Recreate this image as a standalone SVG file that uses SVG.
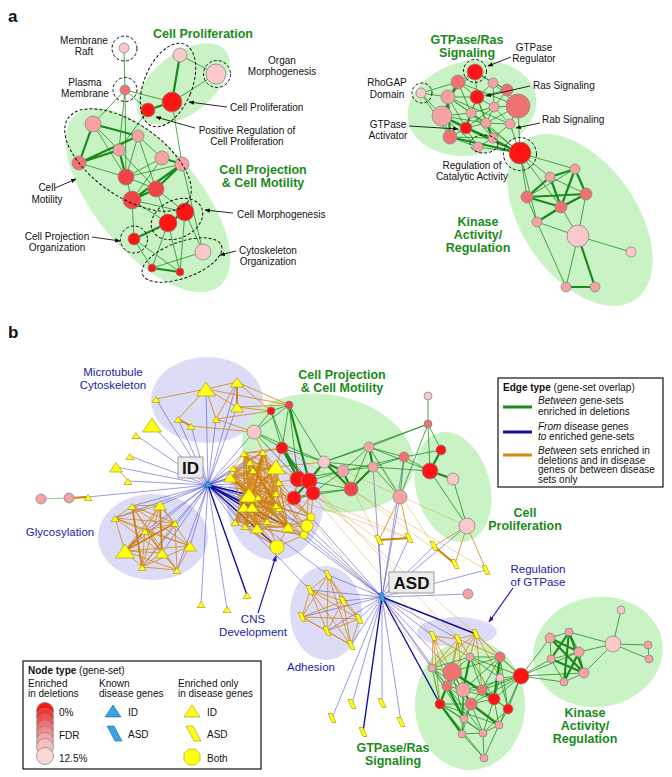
<svg xmlns="http://www.w3.org/2000/svg" width="672" height="777" viewBox="0 0 672 777">
<style>
text{font-family:"Liberation Sans",Arial,sans-serif;fill:#111}
.lb{font-size:10px}
.ttl{font-size:12.5px;font-weight:bold;fill:#1a8a1a}
.bl{font-size:11.5px;fill:#1c1ca8}
.pl{font-size:17px;font-weight:bold}
.lg{font-size:10px}
.c{text-anchor:middle}
.gbg{fill:#c9f3c4}
.lav{fill:#dcdcf6}
.dsh{fill:none;stroke:#111;stroke-width:1;stroke-dasharray:3,2}
.g1{fill:none;stroke:#1f8f1f;stroke-width:.8}
.g2{fill:none;stroke:#1a8a1a;stroke-width:2.2}
.g0{fill:none;stroke:#5cb85c;stroke-width:.7}
.o1{fill:none;stroke:#d4870f;stroke-width:.8}
.o2{fill:none;stroke:#cc7f0a;stroke-width:1.8}
.o0{fill:none;stroke:#dc9a3a;stroke-width:.55;opacity:.8}
.b1{fill:none;stroke:#3a3ac8;stroke-width:.6;opacity:.85}
.b2{fill:none;stroke:#10109a;stroke-width:1.4}
.ar{fill:none;stroke:#111;stroke-width:.9}
.r0{fill:#ff1414}.r1{fill:#f24444}.r2{fill:#ef7272}.r3{fill:#f4a2a2}.r4{fill:#f9c8c8}
circle.r0,circle.r1,circle.r2,circle.r3,circle.r4{stroke:#8a8a8a;stroke-width:.8}
.y{fill:#ffff14;stroke:#a09000;stroke-width:.6}
.hb{fill:#3aa2e6;stroke:#1a6aa0;stroke-width:.6}
</style>
<defs>
<polygon id="ts" points="0,-3.5 4,2.5 -4,2.5"/>
<polygon id="tm" points="0,-5.5 6.5,4 -6.5,4"/>
<polygon id="tl" points="0,-8 9.5,6 -9.5,6"/>
<polygon id="pg" points="-4,-4.5 0,-4.5 4,4.5 0,4.5"/>
<marker id="ah" viewBox="0 0 10 10" refX="9" refY="5" markerWidth="6" markerHeight="6" orient="auto"><path d="M0,1L10,5L0,9z" fill="#111"/></marker>
<marker id="ahb" viewBox="0 0 10 10" refX="9" refY="5" markerWidth="5" markerHeight="5" orient="auto"><path d="M0,1L10,5L0,9z" fill="#1c1ca8"/></marker>
</defs>
<rect width="672" height="777" fill="#fff"/>

<!-- ===== PANEL A backgrounds ===== -->
<g id="bg-a">
<ellipse class="gbg" cx="183" cy="84" rx="54" ry="30" transform="rotate(-38 183 84)"/>
<ellipse class="gbg" cx="148" cy="200" rx="112" ry="52" transform="rotate(50 148 200)"/>
<ellipse class="gbg" cx="472" cy="108" rx="65" ry="47" transform="rotate(-12 472 108)"/>
<ellipse class="gbg" cx="580" cy="220" rx="97" ry="57" transform="rotate(55 580 220)"/>
</g>

<!-- ===== PANEL A connectors ===== -->
<g id="edges-a">
<path class="g1" d="M124,48L125,90M125,90L93,124M125,90L148,110M125,90L172,102M125,90L119,150M125,90L126,177M180,55L216,74M216,74L172,102M172,102L182,164M148,110L119,150M93,124L119,150M93,124L126,177M138,136L162,158M138,136L126,177M119,150L156,189M162,158L126,177M162,158L132,200M79,163L126,177M182,164L126,177M126,177L132,200M126,177L156,189M156,189L185,212M156,189L168,223M132,200L168,223M132,200L134,239M185,212L203,252M168,223L152,268M168,223L180,272M134,239L152,268M134,239L180,272M203,252L152,268M185,212L180,272M182,164L203,252M132,200L185,212M138,136L156,189"/>
<path class="g2" d="M180,55L172,102M172,102L148,110M93,124L138,136M93,124L79,163M79,163L138,136M79,163L119,150M162,158L182,164M182,164L156,189M182,164L132,200M156,189L132,200M185,212L168,223M168,223L134,239M152,268L180,272M119,150L126,177"/>
<path class="g1" d="M475,72L458,82M475,72L493,83M475,72L477,97M475,72L448,97M458,82L448,97M458,82L477,97M458,82L421,93M493,83L507,90M493,83L477,97M493,83L494,107M507,90L518,106M507,90L494,107M507,90L477,97M421,93L448,97M421,93L442,116M448,97L477,97M448,97L471,113M448,97L466,128M477,97L494,107M477,97L471,113M477,97L486,123M477,97L466,128M518,106L494,107M518,106L510,124M518,106L486,123M518,106L520,153M494,107L471,113M494,107L486,123M494,107L510,124M471,113L442,116M471,113L486,123M442,116L450,137M442,116L478,147M486,123L466,128M486,123L510,124M466,128L450,137M466,128L493,138M466,128L478,147M510,124L493,138M510,124L520,153M450,137L478,147M450,137L493,138M493,138L478,147M493,138L520,153M478,147L520,153M448,97L510,124M458,82L518,106M493,83L518,106M471,113L493,138M448,97L486,123M477,97L493,138M421,93L450,137M475,72L507,90M458,82L471,113M442,116L486,123M494,107L466,128M486,123L520,153M471,113L520,153"/>
<path class="g2" d="M442,116L520,153M450,137L520,153M448,97L450,137M471,113L466,128M486,123L493,138M466,128L520,153M442,116L466,128M458,82L442,116"/>
<path class="g1" d="M520,153L575,169M520,153L550,177M520,153L527,197M575,169L527,197M550,177L586,194M527,197L537,222M586,194L578,236M561,207L578,236M537,222L578,236M578,236L631,252M578,236L566,287M537,222L566,287M586,194L537,222M520,153L561,207M520,153L537,222"/>
<path class="g2" d="M575,169L550,177M575,169L586,194M575,169L561,207M550,177L527,197M550,177L561,207M527,197L586,194M527,197L561,207M586,194L561,207M561,207L537,222M566,287L595,287M578,236L595,287"/>
</g>

<!-- ===== PANEL A nodes ===== -->
<g id="nodes-a">
<g id="a-membrane-raft"><circle class="r4" cx="124" cy="48" r="5"/></g>
<g id="a-plasma-membrane"><circle class="r2" cx="125" cy="90" r="5"/></g>
<g id="a-n3"><circle class="r4" cx="180" cy="55" r="7"/></g>
<g id="a-organ-morph"><circle class="r4" cx="216" cy="74" r="10"/></g>
<g id="a-cell-prolif"><circle class="r0" cx="172" cy="102" r="10"/></g>
<g id="a-pos-reg"><circle class="r0" cx="148" cy="110" r="7"/></g>
<g id="a-n7"><circle class="r3" cx="93" cy="124" r="8"/></g>
<g id="a-n8"><circle class="r3" cx="138" cy="136" r="6"/></g>
<g id="a-n9"><circle class="r3" cx="119" cy="150" r="6"/></g>
<g id="a-n10"><circle class="r2" cx="79" cy="163" r="7"/></g>
<g id="a-n11"><circle class="r3" cx="162" cy="158" r="7"/></g>
<g id="a-n12"><circle class="r3" cx="182" cy="164" r="7"/></g>
<g id="a-n13"><circle class="r1" cx="126" cy="177" r="8"/></g>
<g id="a-n14"><circle class="r1" cx="156" cy="189" r="8"/></g>
<g id="a-n15"><circle class="r1" cx="132" cy="200" r="9"/></g>
<g id="a-n16"><circle class="r0" cx="185" cy="212" r="9"/></g>
<g id="a-n17"><circle class="r0" cx="168" cy="223" r="9"/></g>
<g id="a-cp-org"><circle class="r0" cx="134" cy="239" r="6"/></g>
<g id="a-n19"><circle class="r4" cx="203" cy="252" r="8"/></g>
<g id="a-n20"><circle class="r0" cx="152" cy="268" r="4"/></g>
<g id="a-n21"><circle class="r0" cx="180" cy="272" r="4"/></g>

<g id="a-gtp-reg"><circle class="r0" cx="475" cy="72" r="8"/></g>
<g id="a-b2"><circle class="r2" cx="458" cy="82" r="7"/></g>
<g id="a-b3"><circle class="r3" cx="493" cy="83" r="5"/></g>
<g id="a-b4"><circle class="r2" cx="507" cy="90" r="6"/></g>
<g id="a-rhogap"><circle class="r4" cx="421" cy="93" r="5"/></g>
<g id="a-b6"><circle class="r3" cx="448" cy="97" r="7"/></g>
<g id="a-ras"><circle class="r0" cx="477" cy="97" r="7"/></g>
<g id="a-b8"><circle class="r2" cx="518" cy="106" r="12"/></g>
<g id="a-b9"><circle class="r3" cx="494" cy="107" r="5"/></g>
<g id="a-b10"><circle class="r3" cx="471" cy="113" r="5"/></g>
<g id="a-b11"><circle class="r3" cx="442" cy="116" r="10"/></g>
<g id="a-b12"><circle class="r3" cx="486" cy="123" r="5"/></g>
<g id="a-gtp-act"><circle class="r0" cx="466" cy="128" r="6"/></g>
<g id="a-rab"><circle class="r3" cx="510" cy="124" r="5"/></g>
<g id="a-b15"><circle class="r2" cx="450" cy="137" r="7"/></g>
<g id="a-b16"><circle class="r3" cx="493" cy="138" r="5"/></g>
<g id="a-b17"><circle class="r3" cx="478" cy="147" r="5"/></g>
<g id="a-reg-cat"><circle class="r0" cx="520" cy="153" r="11"/></g>
<g id="a-k1"><circle class="r3" cx="575" cy="169" r="5"/></g>
<g id="a-k2"><circle class="r3" cx="550" cy="177" r="5"/></g>
<g id="a-k3"><circle class="r2" cx="527" cy="197" r="6"/></g>
<g id="a-k4"><circle class="r2" cx="586" cy="194" r="6"/></g>
<g id="a-k5"><circle class="r2" cx="561" cy="207" r="6"/></g>
<g id="a-k6"><circle class="r3" cx="537" cy="222" r="5"/></g>
<g id="a-k7"><circle class="r4" cx="578" cy="236" r="11"/></g>
<g id="a-k8"><circle class="r4" cx="631" cy="252" r="5"/></g>
<g id="a-k9"><circle class="r3" cx="566" cy="287" r="5"/></g>
<g id="a-k10"><circle class="r3" cx="595" cy="287" r="5"/></g>
</g>

<!-- dashed groupings panel a -->
<g id="dashed-a">
<circle class="dsh" cx="124.5" cy="48.5" r="12.5"/>
<circle class="dsh" cx="125" cy="89.5" r="12"/>
<circle class="dsh" cx="217" cy="74" r="13.5"/>
<ellipse class="dsh" cx="168" cy="85" rx="24" ry="44" transform="rotate(22 168 85)"/>
<ellipse class="dsh" cx="128" cy="160" rx="73" ry="36" transform="rotate(35 128 160)"/>
<ellipse class="dsh" cx="177" cy="219" rx="27" ry="19" transform="rotate(-25 177 219)"/>
<circle class="dsh" cx="134" cy="239.5" r="13.5"/>
<ellipse class="dsh" cx="182" cy="260" rx="42" ry="18" transform="rotate(-20 182 260)"/>
<circle class="dsh" cx="475" cy="71" r="11.5"/>
<circle class="dsh" cx="422" cy="93" r="10"/>
<circle class="dsh" cx="520" cy="154" r="16.5"/>
<ellipse class="dsh" cx="484" cy="144" rx="14" ry="9"/>
</g>

<!-- panel a labels -->
<g id="labels-a">
<text x="8" y="22" class="pl">a</text>
<text x="203" y="38" class="ttl c">Cell Proliferation</text>
<text x="84" y="44" class="lb c">Membrane<tspan x="84" dy="11">Raft</tspan></text>
<text x="85" y="86" class="lb c">Plasma<tspan x="85" dy="11">Membrane</tspan></text>
<text x="282" y="64" class="lb c">Organ<tspan x="282" dy="11">Morphogenesis</tspan></text>
<text x="230" y="111" class="lb">Cell Proliferation</text>
<text x="247" y="134" class="lb c">Positive Regulation of<tspan x="247" dy="11">Cell Proliferation</tspan></text>
<text x="263" y="174" class="ttl c">Cell Projection<tspan x="263" dy="13">&amp; Cell Motility</tspan></text>
<text x="47" y="191" class="lb c">Cell<tspan x="47" dy="12">Motility</tspan></text>
<text x="237" y="218" class="lb">Cell Morphogenesis</text>
<text x="57" y="240" class="lb c">Cell Projection<tspan x="57" dy="11">Organization</tspan></text>
<text x="268" y="254" class="lb c">Cytoskeleton<tspan x="268" dy="11">Organization</tspan></text>
<text x="467" y="44" class="ttl c">GTPase/Ras<tspan x="467" dy="13">Signaling</tspan></text>
<text x="534" y="51" class="lb c">GTPase<tspan x="534" dy="11">Regulator</tspan></text>
<text x="533" y="89" class="lb">Ras Signaling</text>
<text x="387" y="86" class="lb c">RhoGAP<tspan x="387" dy="12">Domain</tspan></text>
<text x="542" y="123" class="lb">Rab Signaling</text>
<text x="388" y="128" class="lb c">GTPase<tspan x="388" dy="11">Activator</tspan></text>
<text x="472" y="169" class="lb c">Regulation of<tspan x="472" dy="11">Catalytic Activity</tspan></text>
<text x="478" y="226" class="ttl c">Kinase<tspan x="478" dy="13">Activity/</tspan><tspan x="478" dy="13">Regulation</tspan></text>
</g>
<g id="callouts-a">
<path class="ar" marker-end="url(#ah)" d="M227,107L189,102"/>
<path class="ar" marker-end="url(#ah)" d="M195,128L156,117"/>
<path class="ar" marker-end="url(#ah)" d="M55,188L76,179"/>
<path class="ar" marker-end="url(#ah)" d="M233,213L205,210"/>
<path class="ar" marker-end="url(#ah)" d="M92,237L120,241"/>
<path class="ar" marker-end="url(#ah)" d="M236,251L220,255"/>
<path class="ar" marker-end="url(#ah)" d="M511,57L488,66"/>
<path class="ar" marker-end="url(#ah)" d="M530,86L486,96"/>
<path class="ar" marker-end="url(#ah)" d="M540,123L516,128"/>
<path class="ar" marker-end="url(#ah)" d="M409,126L458,129"/>
</g>

<!-- ===== PANEL B backgrounds ===== -->
<g id="bg-b">
<ellipse class="lav" cx="207" cy="400" rx="56" ry="43"/>
<ellipse class="gbg" cx="328" cy="453" rx="87" ry="58" transform="rotate(12 328 453)"/>
<ellipse class="gbg" cx="453" cy="487" rx="37" ry="56" transform="rotate(-15 453 487)"/>
<ellipse class="gbg" cx="470" cy="705" rx="55" ry="65"/>
<ellipse class="gbg" cx="598" cy="652" rx="65" ry="55" transform="rotate(-10 598 652)"/>
<ellipse class="lav" cx="275" cy="503" rx="48" ry="57"/>
<ellipse class="lav" cx="153" cy="537" rx="55" ry="43"/>
<ellipse class="lav" cx="326" cy="613" rx="36" ry="47"/>
<ellipse class="lav" cx="457" cy="632" rx="40" ry="15"/>
</g>

<!-- ===== PANEL B connectors ===== -->
<g id="edges-b">
<path class="b1" d="M208,485L206,389M208,485L237,382M208,485L156,399M208,485L237,407M208,485L178,419M208,485L191,426M208,485L216,419M208,485L152,425M208,485L136,435M208,485L130,456M208,485L116,467M208,485L128,481M208,485L88,497M208,485L132,506M208,485L160,505M208,485L115,518M208,485L175,523M208,485L145,531M208,485L190,546M208,485L125,551M208,485L162,553M208,485L142,567M208,485L177,570M208,485L201,604M208,485L227,609M208,485L254,432M208,485L244,453M208,485L233,468M208,485L230,477M208,485L250,462M208,485L253,470M208,485L244,507M208,485L235,522M208,485L245,526M208,485L276,467M208,485L279,482M208,485L276,493M208,485L279,508M208,485L258,497M208,485L263,452M208,485L311,517M208,485L307,526M208,485L304,535M208,485L328,575M208,485L310,590"/>
<path class="b2" d="M208,485L249,495M208,485L252,507M208,485L277,547M208,485L247,595M208,485L288,527M208,485L267,521"/>
<path class="b1" d="M382,597L379,540M382,597L409,538M382,597L434,546M382,597L468,594M382,597L486,570M382,597L433,636M382,597L458,639M382,597L432,668M382,597L452,672M382,597L447,686M382,597L328,575M382,597L310,590M382,597L343,601M382,597L302,617M382,597L359,619M382,597L327,631M382,597L351,645M382,597L332,718M382,597L352,704M382,597L382,703M382,597L401,722M382,597L400,497M382,597L311,517M382,597L307,526M382,597L304,535M382,597L279,508M382,597L288,527M382,597L467,526M382,597L373,467M382,597L404,457"/>
<path class="b2" d="M382,597L476,634M382,597L440,704M382,597L363,732"/>

<path class="o0" d="M276,467L379,540M279,482L409,538M298,479L433,636M309,481L458,639M313,493L476,634M294,498L432,668M324,462L467,526M276,493L409,538M343,471L379,540M369,447L434,546M282,448L486,570M351,489L455,564"/>
<path class="o1" d="M263,452L276,467M263,452L230,477M263,452L249,495M263,452L244,507M263,452L235,522M263,452L288,527M263,452L257,528M244,453L276,467M244,453L279,482M244,453L276,493M244,453L267,521M244,453L288,527M250,462L279,482M250,462L279,508M250,462L257,528M250,462L276,505M276,467L233,468M276,467L230,477M276,467L244,507M276,467L235,522M276,467L252,507M233,468L279,482M233,468L276,493M233,468L279,508M233,468L288,527M230,477L279,482M230,477L276,493M230,477L276,505M230,477L267,521M253,470L279,508M253,470L288,527M253,470L235,522M279,482L249,495M279,482L244,507M279,482L235,522M279,482L245,526M249,495L276,493M249,495L279,508M249,495L288,527M249,495L267,521M258,497L235,522M258,497L288,527M276,493L244,507M276,493L235,522M276,493L245,526M244,507L288,527M244,507L279,508M252,507L288,527M252,507L276,505M279,508L235,522M235,522L288,527M245,526L276,505M257,528L288,527M244,453L233,468M263,452L244,453M250,462L253,470M230,477L249,495M249,495L244,507M244,507L235,522M258,497L252,507M252,507L257,528M267,521L288,527M279,508L288,527M311,517L279,508M311,517L279,482M307,526L276,493M307,526L267,521M304,535L257,528M304,535L245,526M277,547L245,526M277,547L257,528M277,547L267,521M277,547L235,522M311,517L307,526M307,526L304,535M304,535L277,547M233,468L263,452M230,477L250,462M276,467L279,482M263,452L279,482M253,470L276,467"/>
<path class="o1" d="M263,452L279,508M263,452L276,493M263,452L252,507M263,452L267,521M263,452L258,497M244,453L249,495M244,453L244,507M244,453L257,528M244,453L245,526M244,453L252,507M250,462L249,495M250,462L288,527M250,462L244,507M250,462L235,522M250,462L276,467M250,462L276,493M276,467L257,528M276,467L267,521M276,467L288,527M276,467L279,508M233,468L249,495M233,468L257,528M233,468L245,526M233,468L252,507M230,477L258,497M230,477L257,528M230,477L279,508M230,477L253,470M253,470L249,495M253,470L244,507M253,470L276,493M253,470L257,528M279,482L252,507M279,482L257,528M279,482L267,521M279,482L288,527M249,495L257,528M249,495L235,522M249,495L245,526M258,497L279,508M258,497L276,467M258,497L245,526M276,493L257,528M276,493L252,507M276,493L288,527M244,507L257,528M244,507L267,521M252,507L235,522M252,507L279,508M279,508L245,526M279,508L257,528M279,508L267,521M235,522L267,521M245,526L288,527M257,528L276,505M276,505L288,527M276,505L235,522M311,517L288,527M311,517L276,493M307,526L288,527M304,535L288,527M277,547L288,527M277,547L244,507M263,452L304,535M244,453L311,517M233,468L307,526M230,477L304,535M253,470L311,517"/>
<path class="o1" d="M276,467L282,448M276,467L298,479M263,452L282,448M279,482L298,479M279,482L294,498M276,493L294,498M276,505L294,498M279,508L313,493M276,467L324,462M263,452L254,432M244,453L282,448M288,527L313,493M311,517L313,493M307,526L309,481"/>
<path class="o2" d="M276,467L249,495M244,453L279,508M230,477L288,527M263,452L245,526M249,495L276,505"/>
<path class="o1" d="M206,389L237,382M206,389L156,399M206,389L216,419M206,389L178,419M206,389L237,407M237,382L289,405M237,382L271,411M237,407L289,405M237,407L271,411M206,389L289,405M216,419L271,411M216,419L254,432M237,382L216,419M191,426L254,432M116,467L128,481"/>
<path class="o2" d="M237,382L237,407M178,419L191,426M69,498L88,497"/>
<path class="o1" d="M132,506L160,505M132,506L115,518M132,506L175,523M132,506L190,546M132,506L162,553M132,506L177,570M160,505L115,518M160,505L145,531M160,505L125,551M160,505L142,567M160,505L190,546M160,505L175,523M115,518L175,523M115,518L145,531M115,518L190,546M115,518L162,553M115,518L125,551M175,523L145,531M175,523L142,567M175,523L177,570M145,531L190,546M145,531L162,553M145,531L177,570M145,531L142,567M190,546L125,551M190,546L142,567M190,546L177,570M125,551L162,553M125,551L142,567M125,551L177,570M162,553L142,567M162,553L177,570M142,567L177,570"/>
<path class="o2" d="M160,505L162,553M145,531L125,551M132,506L142,567M175,523L125,551"/>
<path class="o1" d="M328,575L310,590M328,575L343,601M328,575L302,617M328,575L327,631M328,575L351,645M310,590L343,601M310,590L302,617M310,590L359,619M310,590L327,631M310,590L351,645M343,601L302,617M343,601L359,619M343,601L327,631M343,601L351,645M302,617L359,619M302,617L327,631M302,617L351,645M359,619L327,631M359,619L351,645M327,631L351,645M328,575L359,619"/>
<path class="o1" d="M433,636L458,639M458,639L476,634M433,636L432,668M433,636L452,672M433,636L470,657M433,636L447,686M433,636L440,704M458,639L452,672M458,639L470,657M458,639L500,657M458,639L463,690M458,639L447,686M476,634L470,657M476,634L500,657M476,634L500,678M476,634L521,676M476,634L452,672M476,634L482,690M476,634L432,668M458,639L432,668"/>
<path class="o1" d="M379,540L400,497M409,538L400,497M434,546L467,526M455,564L467,526M486,570L467,526"/>
<path class="o2" d="M379,540L409,538M434,546L455,564"/>

<path class="g0" d="M41,499L69,498"/>
<path class="g1" d="M271,411L289,405M271,411L254,432M289,405L254,432M271,411L282,448M289,405L282,448M289,405L298,479M289,405L324,462M254,432L282,448M282,448L309,481M282,448L324,462M309,481L313,493M298,479L294,498M313,493L294,498M309,481L343,471M313,493L343,471M324,462L369,447M324,462L373,467M343,471L373,467M343,471L369,447M369,447L400,497M373,467L400,497M369,447L404,457M373,467L404,457M404,457L400,497M351,489L369,447M351,489L309,481M369,447L428,424M324,462L428,424M404,457L441,450M428,396L428,424M428,424L441,450M428,424L430,471M428,424L400,497M430,471L467,526M453,479L467,526M404,457L430,471M373,467L430,471M369,447L430,471M254,432L298,479M254,432L324,462M271,411L298,479M313,493L351,489M343,471L404,457M294,498L351,489M298,479L343,471"/>
<path class="g2" d="M282,448L298,479M298,479L309,481M309,481L324,462M282,448L313,493M298,479L313,493M324,462L343,471M369,447L373,467M343,471L351,489M373,467L351,489M441,450L430,471M430,471L453,479M289,405L309,481M324,462L351,489M294,498L309,481"/>
<path class="g1" d="M432,668L452,672M432,668L447,686M432,668L440,704M432,668L470,657M452,672L470,657M452,672L447,686M452,672L463,690M452,672L471,704M452,672L500,657M470,657L500,657M470,657L500,678M470,657L482,690M500,657L500,678M500,657L521,676M500,657L482,690M500,678L521,676M500,678L482,690M500,678L494,699M447,686L463,690M447,686L440,704M447,686L471,704M463,690L482,690M463,690L464,719M463,690L494,699M482,690L471,704M482,690L508,709M440,704L471,704M440,704L464,719M440,704L484,758M471,704L494,699M471,704L464,719M471,704L483,733M494,699L508,709M494,699L499,725M494,699L483,733M508,709L499,725M508,709L521,676M464,719L462,734M464,719L483,733M499,725L483,733M462,734L483,733M462,734L484,758M483,733L484,758M499,725L484,758M508,709L483,733M440,704L483,733M471,704L462,734M452,672L464,719M463,690L462,734M521,676L482,690M521,676L494,699M521,676L470,657M521,676L463,690M521,676L471,704M521,676L499,725M432,668L464,719M447,686L483,733M470,657L494,699M500,657L463,690M500,678L508,709M440,704L499,725M432,668L463,690M452,672L482,690M500,657L508,709"/>
<path class="g2" d="M452,672L440,704M463,690L471,704M482,690L494,699M440,704L462,734M471,704L499,725M447,686L464,719M470,657L463,690M500,657L494,699M452,672L494,699"/>
<path class="g1" d="M521,676L550,638M521,676L551,659M521,676L564,682M521,676L584,673M521,676L579,652M550,638L569,632M550,638L551,659M569,632L579,652M551,659L579,652M551,659L564,682M579,652L584,673M579,652L613,644M584,673L613,644M613,644L621,610M613,644L648,645M613,644L649,659M648,645L649,659M569,632L613,644M564,682L584,673"/>
<path class="g2" d="M550,638L579,652M569,632L551,659M551,659L584,673M569,632L564,682M579,652L564,682M550,638L584,673M569,632L584,673"/>
</g>

<!-- ===== PANEL B nodes ===== -->
<g id="nodes-b">
<g id="b-lc1"><circle class="r3" cx="41" cy="499" r="5"/></g>
<g id="b-lc2"><circle class="r3" cx="69" cy="498" r="5"/></g>
<g id="b-lc3"><use href="#ts" x="88" y="498" class="y"/></g>
<g id="b-m1"><use href="#tl" x="206" y="390" class="y"/></g>
<g id="b-m2"><use href="#tm" x="237" y="383" class="y"/></g>
<g id="b-m3"><use href="#ts" x="156" y="400" class="y"/></g>
<g id="b-m4"><use href="#tm" x="237" y="408" class="y"/></g>
<g id="b-m5"><use href="#ts" x="178" y="420" class="y"/></g>
<g id="b-m6"><use href="#ts" x="191" y="427" class="y"/></g>
<g id="b-m7"><use href="#ts" x="216" y="420" class="y"/></g>
<g id="b-m8"><use href="#tl" x="152" y="426" class="y"/></g>
<g id="b-m9"><use href="#ts" x="136" y="436" class="y"/></g>
<g id="b-m10"><use href="#ts" x="130" y="457" class="y"/></g>
<g id="b-m11"><use href="#tm" x="116" y="468" class="y"/></g>
<g id="b-m12"><use href="#ts" x="128" y="482" class="y"/></g>
<g id="b-g1"><use href="#ts" x="132" y="507" class="y"/></g>
<g id="b-g2"><use href="#tm" x="160" y="506" class="y"/></g>
<g id="b-g3"><use href="#ts" x="115" y="519" class="y"/></g>
<g id="b-g4"><use href="#ts" x="175" y="524" class="y"/></g>
<g id="b-g5"><use href="#ts" x="145" y="532" class="y"/></g>
<g id="b-g6"><use href="#tm" x="190" y="547" class="y"/></g>
<g id="b-g7"><use href="#tl" x="125" y="552" class="y"/></g>
<g id="b-g8"><use href="#tm" x="162" y="554" class="y"/></g>
<g id="b-g9"><use href="#ts" x="142" y="568" class="y"/></g>
<g id="b-g10"><use href="#ts" x="177" y="571" class="y"/></g>
<g id="b-l1"><use href="#ts" x="201" y="605" class="y"/></g>
<g id="b-l2"><use href="#ts" x="227" y="610" class="y"/></g>
<g id="b-l3"><use href="#ts" x="247" y="596" class="y"/></g>
<g id="b-d1"><use href="#ts" x="263" y="453" class="y"/></g>
<g id="b-d2"><use href="#ts" x="244" y="454" class="y"/></g>
<g id="b-d3"><use href="#ts" x="250" y="463" class="y"/></g>
<g id="b-d4"><use href="#tl" x="276" y="468" class="y"/></g>
<g id="b-d5"><use href="#ts" x="233" y="469" class="y"/></g>
<g id="b-d6"><use href="#tm" x="230" y="478" class="y"/></g>
<g id="b-d7"><use href="#ts" x="253" y="471" class="y"/></g>
<g id="b-d8"><use href="#ts" x="279" y="483" class="y"/></g>
<g id="b-d9"><use href="#tl" x="249" y="496" class="y"/></g>
<g id="b-d10"><use href="#ts" x="258" y="498" class="y"/></g>
<g id="b-d11"><use href="#ts" x="276" y="494" class="y"/></g>
<g id="b-d12"><use href="#tm" x="244" y="508" class="y"/></g>
<g id="b-d13"><use href="#tm" x="252" y="508" class="y"/></g>
<g id="b-d14"><use href="#ts" x="279" y="509" class="y"/></g>
<g id="b-d15"><use href="#ts" x="235" y="523" class="y"/></g>
<g id="b-d16"><use href="#ts" x="245" y="527" class="y"/></g>
<g id="b-d17"><use href="#tm" x="257" y="529" class="y"/></g>
<g id="b-d18"><use href="#ts" x="267" y="522" class="y"/></g>
<g id="b-d19"><use href="#tm" x="288" y="528" class="y"/></g>
<g id="b-d20"><use href="#ts" x="276" y="506" class="y"/></g>
<g id="b-y1"><circle class="y" cx="311" cy="517" r="4"/></g>
<g id="b-y2"><circle class="y" cx="307" cy="526" r="6"/></g>
<g id="b-y3"><circle class="y" cx="304" cy="535" r="4"/></g>
<g id="b-cns"><circle class="y" cx="277" cy="547" r="7"/></g>
<g id="b-c1"><circle class="r0" cx="271" cy="411" r="4"/></g>
<g id="b-c2"><circle class="r1" cx="289" cy="405" r="4"/></g>
<g id="b-c3"><circle class="r4" cx="254" cy="432" r="7"/></g>
<g id="b-c4"><circle class="r0" cx="282" cy="448" r="6"/></g>
<g id="b-c5"><circle class="r0" cx="298" cy="479" r="8"/></g>
<g id="b-c6"><circle class="r0" cx="309" cy="481" r="8"/></g>
<g id="b-c7"><circle class="r0" cx="313" cy="493" r="7"/></g>
<g id="b-c8"><circle class="r0" cx="294" cy="498" r="7"/></g>
<g id="b-c9"><circle class="r4" cx="324" cy="462" r="6"/></g>
<g id="b-c10"><circle class="r3" cx="343" cy="471" r="6"/></g>
<g id="b-c11"><circle class="r3" cx="369" cy="447" r="5"/></g>
<g id="b-c12"><circle class="r3" cx="373" cy="467" r="5"/></g>
<g id="b-c13"><circle class="r2" cx="404" cy="457" r="5"/></g>
<g id="b-c14"><circle class="r1" cx="351" cy="489" r="7"/></g>
<g id="b-c15"><circle class="r3" cx="400" cy="497" r="7"/></g>
<g id="b-p1"><circle class="r4" cx="428" cy="396" r="4"/></g>
<g id="b-p2"><circle class="r2" cx="428" cy="424" r="4"/></g>
<g id="b-p3"><circle class="r0" cx="441" cy="450" r="5"/></g>
<g id="b-p4"><circle class="r0" cx="430" cy="471" r="8"/></g>
<g id="b-p5"><circle class="r4" cx="453" cy="479" r="6"/></g>
<g id="b-p6"><circle class="r4" cx="467" cy="526" r="8"/></g>
<g id="b-s1"><use href="#pg" x="379" y="540" class="y"/></g>
<g id="b-s2"><use href="#pg" x="409" y="538" class="y"/></g>
<g id="b-s3"><use href="#pg" x="434" y="546" class="y"/></g>
<g id="b-s4"><use href="#pg" x="455" y="564" class="y"/></g>
<g id="b-s5"><use href="#pg" x="486" y="570" class="y"/></g>
<g id="b-pn"><circle class="r3" cx="468" cy="594" r="5"/></g>
<g id="b-ad1"><use href="#pg" x="328" y="575" class="y"/></g>
<g id="b-ad2"><use href="#pg" x="310" y="590" class="y"/></g>
<g id="b-ad3"><use href="#pg" x="343" y="601" class="y"/></g>
<g id="b-ad4"><use href="#pg" x="302" y="617" class="y"/></g>
<g id="b-ad5"><use href="#pg" x="359" y="619" class="y"/></g>
<g id="b-ad6"><use href="#pg" x="327" y="631" class="y"/></g>
<g id="b-ad7"><use href="#pg" x="351" y="645" class="y"/></g>
<g id="b-ls1"><use href="#pg" x="332" y="718" class="y"/></g>
<g id="b-ls2"><use href="#pg" x="352" y="704" class="y"/></g>
<g id="b-ls3"><use href="#pg" x="382" y="703" class="y"/></g>
<g id="b-ls4"><use href="#pg" x="401" y="722" class="y"/></g>
<g id="b-ls5"><use href="#pg" x="363" y="732" class="y"/></g>
<g id="b-r1"><use href="#pg" x="433" y="636" class="y"/></g>
<g id="b-r2"><use href="#pg" x="458" y="639" class="y"/></g>
<g id="b-r3"><use href="#pg" x="476" y="634" class="y"/></g>
<g id="b-t1"><circle class="r3" cx="432" cy="668" r="4"/></g>
<g id="b-t2"><circle class="r2" cx="452" cy="672" r="9"/></g>
<g id="b-t3"><circle class="r3" cx="470" cy="657" r="4"/></g>
<g id="b-t4"><circle class="r2" cx="500" cy="657" r="5"/></g>
<g id="b-t5"><circle class="r4" cx="500" cy="678" r="4"/></g>
<g id="b-t6"><circle class="r2" cx="447" cy="686" r="5"/></g>
<g id="b-t7"><circle class="r3" cx="463" cy="690" r="7"/></g>
<g id="b-t8"><circle class="r2" cx="482" cy="690" r="5"/></g>
<g id="b-t9"><circle class="r0" cx="440" cy="704" r="5"/></g>
<g id="b-t10"><circle class="r2" cx="471" cy="704" r="6"/></g>
<g id="b-t11"><circle class="r0" cx="494" cy="699" r="6"/></g>
<g id="b-t12"><circle class="r0" cx="508" cy="709" r="5"/></g>
<g id="b-t13"><circle class="r3" cx="464" cy="719" r="4"/></g>
<g id="b-t14"><circle class="r3" cx="499" cy="725" r="4"/></g>
<g id="b-t15"><circle class="r3" cx="462" cy="734" r="4"/></g>
<g id="b-t16"><circle class="r3" cx="483" cy="733" r="4"/></g>
<g id="b-t17"><circle class="r3" cx="484" cy="758" r="4"/></g>
<g id="b-th"><circle class="r0" cx="521" cy="676" r="8"/></g>
<g id="b-k1"><circle class="r3" cx="550" cy="638" r="5"/></g>
<g id="b-k2"><circle class="r3" cx="569" cy="632" r="4"/></g>
<g id="b-k3"><circle class="r3" cx="551" cy="659" r="4"/></g>
<g id="b-k4"><circle class="r3" cx="579" cy="652" r="5"/></g>
<g id="b-k5"><circle class="r3" cx="584" cy="673" r="5"/></g>
<g id="b-k6"><circle class="r3" cx="564" cy="682" r="4"/></g>
<g id="b-k7"><circle class="r4" cx="613" cy="644" r="8"/></g>
<g id="b-k8"><circle class="r4" cx="621" cy="610" r="4"/></g>
<g id="b-k9"><circle class="r3" cx="648" cy="645" r="4"/></g>
<g id="b-k10"><circle class="r3" cx="649" cy="659" r="4"/></g>
<g id="b-id-hub"><polygon class="hb" points="208,481 212,487 204,487"/></g>
<g id="b-asd-hub"><polygon class="hb" points="379,593 383,593 385,601 381,601"/></g>
</g>

<!-- panel b labels -->
<g id="labels-b">
<text x="8" y="338" class="pl">b</text>
<text x="113" y="375.5" class="bl c">Microtubule<tspan x="113" dy="13">Cytoskeleton</tspan></text>
<text x="342" y="378.5" class="ttl c">Cell Projection<tspan x="342" dy="13">&amp; Cell Motility</tspan></text>
<text x="60" y="536" class="bl c">Glycosylation</text>
<text x="525" y="517" class="ttl c">Cell<tspan x="525" dy="13">Proliferation</tspan></text>
<text x="538" y="572.5" class="bl c">Regulation<tspan x="538" dy="13">of GTPase</tspan></text>
<text x="253" y="622.5" class="bl c">CNS<tspan x="253" dy="13">Development</tspan></text>
<text x="311" y="671" class="bl c">Adhesion</text>
<text x="393" y="751.5" class="ttl c">GTPase/Ras<tspan x="393" dy="13">Signaling</tspan></text>
<text x="585" y="716.5" class="ttl c">Kinase<tspan x="585" dy="13">Activity/</tspan><tspan x="585" dy="13">Regulation</tspan></text>
<g id="b-id-box"><rect x="178" y="457" width="25" height="21" fill="#ececec" stroke="#9a9a9a"/><text x="190.5" y="474" class="pl c">ID</text></g>
<g id="b-asd-box"><rect x="389" y="572" width="45" height="21" fill="#ececec" stroke="#9a9a9a"/><text x="411.5" y="589" class="pl c">ASD</text></g>
<path d="M258,613L276,556" stroke="#1c1ca8" stroke-width="1.2" fill="none" marker-end="url(#ahb)"/>
<path d="M513,588L489,622" stroke="#1c1ca8" stroke-width="1.2" fill="none" marker-end="url(#ahb)"/>
</g>

<!-- edge legend -->
<g id="legend-edge">
<rect x="498" y="378" width="165" height="109" fill="#fff" stroke="#111" stroke-width="1.2"/>
<text x="503" y="391" class="lg"><tspan font-weight="bold">Edge type</tspan> (gene-set overlap)</text>
<line x1="503" y1="407" x2="532" y2="407" stroke="#1a8a1a" stroke-width="3"/>
<text x="538" y="404" class="lg"><tspan font-style="italic">Between</tspan> gene-sets<tspan x="538" dy="10.5">enriched in deletions</tspan></text>
<line x1="503" y1="432" x2="532" y2="432" stroke="#1010a0" stroke-width="3"/>
<text x="538" y="430" class="lg"><tspan font-style="italic">From</tspan> disease genes<tspan x="538" dy="9.5" font-style="italic">to</tspan> enriched gene-sets</text>
<line x1="503" y1="455" x2="532" y2="455" stroke="#d4870f" stroke-width="3"/>
<text x="538" y="454" class="lg"><tspan font-style="italic">Between</tspan> sets enriched in<tspan x="538" dy="9.6">deletions and in disease</tspan><tspan x="538" dy="9.6">genes or between disease</tspan><tspan x="538" dy="9.6">sets only</tspan></text>
</g>

<!-- node legend -->
<g id="legend-node">
<rect x="23" y="661" width="238" height="108" fill="#fff" stroke="#111" stroke-width="1.2"/>
<text x="28" y="674" class="lg"><tspan font-weight="bold">Node type</tspan> (gene-set)</text>
<text x="28" y="687" class="lg">Enriched<tspan x="28" dy="10">in deletions</tspan></text>
<text x="99" y="687" class="lg">Known<tspan x="99" dy="10">disease genes</tspan></text>
<text x="178" y="687" class="lg">Enriched only<tspan x="178" dy="10">in disease genes</tspan></text>
<g stroke="#8a8a8a" stroke-width=".8">
<circle cx="45" cy="711" r="8.5" fill="#ff1414"/>
<circle cx="45" cy="717" r="8.5" fill="#f73434"/>
<circle cx="45" cy="723" r="8.5" fill="#f25252"/>
<circle cx="45" cy="729" r="8.5" fill="#f06f6f"/>
<circle cx="45" cy="735" r="8.5" fill="#f28c8c"/>
<circle cx="45" cy="741" r="8.5" fill="#f5a7a7"/>
<circle cx="45" cy="747" r="8.5" fill="#f8bebe"/>
<circle cx="45" cy="756" r="8.5" fill="#fbd6d6"/>
</g>
<text x="59" y="716" class="lg">0%</text><text x="59" y="739" class="lg">FDR</text><text x="59" y="762" class="lg">12.5%</text>
<polygon class="hb" points="113,705 121,717 105,717"/>
<text x="128" y="716" class="lg">ID</text>
<polygon class="hb" points="107,726 114,726 122,741 115,741"/>
<text x="128" y="738" class="lg">ASD</text>
<polygon class="y" points="192,705 200,717 184,717"/>
<text x="207" y="716" class="lg">ID</text>
<polygon class="y" points="186,726 193,726 201,741 194,741"/>
<text x="207" y="738" class="lg">ASD</text>
<polygon class="y" points="188.7,749 195.3,749 200,753.7 200,760.3 195.3,765 188.7,765 184,760.3 184,753.7"/>
<text x="207" y="762" class="lg">Both</text>
</g>
</svg>
